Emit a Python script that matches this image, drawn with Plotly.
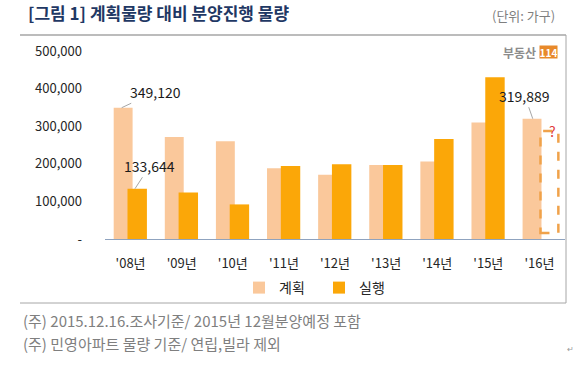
import plotly.graph_objects as go

# ---- data ----
years = ["'08년", "'09년", "'10년", "'11년", "'12년", "'13년", "'14년", "'15년", "'16년"]
plan = [349120, 271000, 260000, 188000, 171000, 197000, 206000, 310000, 319889]
execution = [133644, 124000, 92000, 194000, 199000, 197000, 266000, 430000, None]
expected_2016 = 287000  # dashed "?" box for '16 execution (unknown)
ytick_vals = [0, 100000, 200000, 300000, 400000, 500000]
ytick_text = ["-", "100,000", "200,000", "300,000", "400,000", "500,000"]

FONT = "Noto Sans CJK KR"
PLAN_C = "#FAC89B"
EXEC_C = "#FBA708"

# layout geometry (pixels)
W, H = 580, 365
L, R, T, B = 105, 15, 51, 126
PW, PH = W - L - R, H - T - B


def px(x):
    return (x - L) / PW


def py(y):
    return (H - B - y) / PH


fig = go.Figure()
fig.add_trace(go.Bar(x=years, y=plan, name="계획", marker=dict(color=PLAN_C, line=dict(width=0)),
                     offset=-0.33, width=0.37, legend="legend", showlegend=True))
fig.add_trace(go.Bar(x=years, y=execution, name="실행", marker=dict(color=EXEC_C, line=dict(width=0)),
                     offset=-0.06, width=0.38, legend="legend2", showlegend=True))

shapes = []
# dashed box for 2016 execution
i16 = years.index("'16년")
shapes.append(dict(type="rect", xref="x", yref="y", x0=i16 + 0.02, x1=i16 + 0.37,
                   y0=16000, y1=expected_2016, line=dict(color="#F0A24A", width=2.5, dash="dash"),
                   fillcolor="rgba(0,0,0,0)", layer="above"))
# frame lines
gray = "#A6A6A6"
shapes.append(dict(type="line", xref="paper", yref="paper", x0=px(20), x1=px(566), y0=py(35), y1=py(35),
                   line=dict(color=gray, width=1.5)))
shapes.append(dict(type="line", xref="paper", yref="paper", x0=px(566), x1=px(566), y0=py(35), y1=py(303),
                   line=dict(color=gray, width=1)))
shapes.append(dict(type="line", xref="paper", yref="paper", x0=px(20), x1=px(566), y0=py(303), y1=py(303),
                   line=dict(color=gray, width=1)))

ann = []
lab_font = dict(family=FONT, size=14, color="#1a1a1a")
ann.append(dict(x=-0.174, y=plan[0], xref="x", yref="y", text=f"{plan[0]:,}", showarrow=True,
                arrowhead=0, arrowwidth=1, arrowcolor=gray, ax=34, ay=-16, font=lab_font))
ann.append(dict(x=0.086, y=execution[0], xref="x", yref="y", text=f"{execution[0]:,}", showarrow=True,
                arrowhead=0, arrowwidth=1, arrowcolor=gray, ax=15, ay=-23, font=lab_font))
ann.append(dict(x=i16 - 0.131, y=plan[i16], xref="x", yref="y", text=f"{plan[i16]:,}", showarrow=True,
                arrowhead=0, arrowwidth=1, arrowcolor=gray, ax=-8, ay=-23, font=lab_font))
ann.append(dict(x=i16 + 0.25, y=expected_2016, xref="x", yref="y", text="?", showarrow=False,
                font=dict(family=FONT, size=14, color="#E03C3C"), yshift=0))
# unit
ann.append(dict(x=px(557), y=py(15), xref="paper", yref="paper", text="(단위: 가구)", showarrow=False,
                xanchor="right", yanchor="middle", font=dict(family=FONT, size=13, color="#7F7F7F")))
# logo
ann.append(dict(x=px(538), y=py(52), xref="paper", yref="paper", text="<b>부동산</b>", showarrow=False,
                xanchor="right", yanchor="middle", font=dict(family=FONT, size=12, color="#8C8C8C")))
ann.append(dict(x=px(548.5), y=py(52), xref="paper", yref="paper", text="<b>114</b>", showarrow=False,
                xanchor="center", yanchor="middle", bgcolor="#E8892A", width=17, height=12,
                borderpad=0, font=dict(family=FONT, size=10, color="white")))
# footnotes
foot_font = dict(family=FONT, size=15, color="#7F7F7F")
ann.append(dict(x=px(21), y=py(320), xref="paper", yref="paper",
                text="(주) 2015.12.16.조사기준/ 2015년 12월분양예정 포함", showarrow=False,
                xanchor="left", yanchor="middle", font=foot_font))
ann.append(dict(x=px(21), y=py(343.5), xref="paper", yref="paper",
                text="(주) 민영아파트 물량 기준/ 연립,빌라 제외", showarrow=False,
                xanchor="left", yanchor="middle", font=foot_font))
ann.append(dict(x=px(570), y=py(348), xref="paper", yref="paper", text="↵", showarrow=False,
                xanchor="center", yanchor="middle", font=dict(family=FONT, size=8, color="#999999")))

fig.update_layout(
    width=W, height=H,
    margin=dict(l=L, r=R, t=T, b=B, pad=0, autoexpand=False),
    paper_bgcolor="white", plot_bgcolor="white",
    barmode="overlay",
    title=dict(text="<b>[그림 1] 계획물량 대비 분양진행 물량</b>", xref="container", yref="container",
               x=28 / W, xanchor="left", y=1 - 14 / H, yanchor="middle",
               font=dict(family=FONT, size=17, color="#1F3864")),
    xaxis=dict(type="category", range=[-0.5, len(years) - 0.5], showline=True, linecolor="#8FA3BF",
               linewidth=1, showgrid=False, ticks="", tickfont=dict(family=FONT, size=13, color="#262626"),
               ticklabelstandoff=12),
    yaxis=dict(range=[0, 500000], tickvals=ytick_vals, ticktext=ytick_text, showgrid=False,
               zeroline=False, showline=False, ticks="", ticklabelstandoff=22,
               tickfont=dict(family=FONT, size=13, color="#262626")),
    legend=dict(orientation="h", xref="paper", yref="paper", x=px(239), xanchor="left",
                y=py(288), yanchor="middle", font=dict(family=FONT, size=14, color="#262626"),
                bgcolor="rgba(0,0,0,0)"),
    legend2=dict(orientation="h", xref="paper", yref="paper", x=px(319), xanchor="left",
                 y=py(288), yanchor="middle", font=dict(family=FONT, size=14, color="#262626"),
                 bgcolor="rgba(0,0,0,0)"),
    shapes=shapes,
    annotations=ann,
)

fig.write_html("out.html", config={"displayModeBar": False},
               post_script="document.body.style.margin='0';document.body.style.overflow='hidden';")
